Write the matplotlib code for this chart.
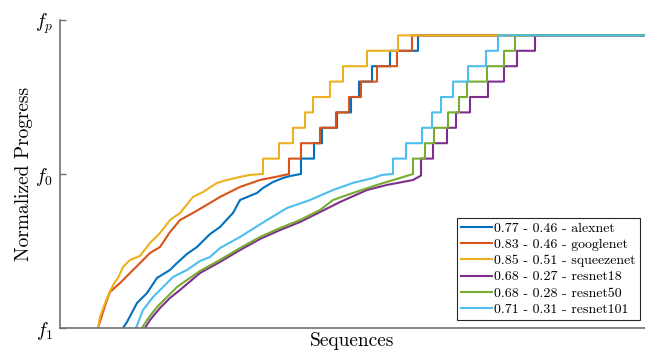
import matplotlib
matplotlib.use('Agg')
import matplotlib.pyplot as plt

plt.rcParams['font.family'] = 'cmr10'
plt.rcParams['mathtext.fontset'] = 'cm'
plt.rcParams['axes.unicode_minus'] = False

# total number of sequences on the x axis
N_SEQ = 585
STEP = 0.1  # height of one stair step (normalized progress)

names = ['alexnet', 'googlenet', 'squeezenet', 'resnet18', 'resnet50', 'resnet101']
score_a = [0.77, 0.83, 0.85, 0.68, 0.68, 0.71]
score_b = [0.46, 0.46, 0.51, 0.27, 0.28, 0.31]
colors = ['#0072BD', '#D95319', '#EDB120', '#7E2F8E', '#77AC30', '#4DBEEE']

# smooth part (below f_0)
alexnet_x = [63, 67, 77, 87, 97, 110, 117, 127, 137, 150, 160, 173, 180, 197, 203, 213, 223, 230, 241]
alexnet_y = [0, 0.039, 0.162, 0.227, 0.325, 0.377, 0.422, 0.481, 0.526, 0.610, 0.656, 0.747, 0.831,
             0.877, 0.909, 0.948, 0.974, 0.987, 1.0]
googlenet_x = [38, 43, 47, 50, 60, 70, 80, 90, 100, 110, 120, 133, 150, 160, 180, 200, 220, 229]
googlenet_y = [0, 0.104, 0.182, 0.234, 0.292, 0.357, 0.422, 0.487, 0.526, 0.623, 0.701, 0.747, 0.812,
               0.851, 0.916, 0.961, 0.987, 1.0]
squeezenet_x = [38, 40, 45, 50, 55, 58, 63, 70, 80, 90, 100, 110, 120, 133, 143, 157, 167, 180, 190, 202]
squeezenet_y = [0, 0.071, 0.162, 0.240, 0.299, 0.325, 0.396, 0.442, 0.468, 0.552, 0.617, 0.701, 0.747,
                0.851, 0.883, 0.942, 0.961, 0.981, 0.994, 1.0]
resnet18_x = [85, 90, 100, 110, 120, 140, 160, 180, 200, 220, 240, 260, 280, 307, 327, 353, 361]
resnet18_y = [0, 0.052, 0.130, 0.195, 0.247, 0.357, 0.429, 0.506, 0.578, 0.636, 0.688, 0.753, 0.818,
              0.896, 0.929, 0.961, 0.99]
resnet50_x = [82, 87, 97, 107, 117, 127, 140, 160, 180, 200, 220, 240, 260, 273, 293, 317, 340, 353]
resnet50_y = [0, 0.052, 0.136, 0.201, 0.266, 0.312, 0.370, 0.442, 0.519, 0.591, 0.649, 0.701, 0.766,
              0.831, 0.877, 0.929, 0.974, 1.0]
resnet101_x = [76, 83, 93, 103, 113, 127, 140, 150, 160, 180, 207, 227, 250, 273, 293, 313, 322, 333]
resnet101_y = [0, 0.117, 0.201, 0.266, 0.331, 0.377, 0.435, 0.461, 0.519, 0.591, 0.701, 0.779, 0.831,
               0.896, 0.942, 0.974, 0.994, 1.0]

# sequences where each stair step (above f_0) happens
alexnet_steps = [241, 254, 262, 277, 291, 299, 312, 330, 358]
googlenet_steps = [229, 241, 260, 276, 289, 301, 317, 337, 352]
squeezenet_steps = [203, 219, 233, 245, 253, 270, 283, 307, 338]
resnet18_steps = [361, 373, 387, 396, 410, 428, 444, 457, 475]
resnet50_steps = [353, 365, 374, 388, 399, 407, 427, 444, 455]
resnet101_steps = [333, 346, 362, 372, 381, 393, 408, 426, 438]

curves = [
    (alexnet_x, alexnet_y, alexnet_steps),
    (googlenet_x, googlenet_y, googlenet_steps),
    (squeezenet_x, squeezenet_y, squeezenet_steps),
    (resnet18_x, resnet18_y, resnet18_steps),
    (resnet50_x, resnet50_y, resnet50_steps),
    (resnet101_x, resnet101_y, resnet101_steps),
]


def build(xs, ys, steps):
    x = list(xs)
    y = list(ys)
    lvl = 1.0
    for s in steps:
        x += [s, s]
        y += [lvl, lvl + STEP]
        lvl += STEP
    x.append(N_SEQ)
    y.append(lvl)
    return x, y


fig = plt.figure(figsize=(6.45, 3.52), dpi=100)
ax = fig.add_axes([60 / 645, 24 / 352, 585 / 645, 308 / 352])

for (xs, ys, st), c, n, a, b in zip(curves, colors, names, score_a, score_b):
    x, y = build(xs, ys, st)
    ax.plot(x, y, color=c, lw=1.5, label='%.2f - %.2f - %s' % (a, b, n))

ax.set_xlim(0, N_SEQ)
ax.set_ylim(0, 2)
ax.set_xticks([])
ax.set_yticks([0, 1, 2])
ax.set_yticklabels([r'$f_1$', r'$f_0$', r'$f_p$'], fontsize=14)
ax.tick_params(axis='y', direction='in', length=4.5, width=1.0, color='#707070', pad=5)
for side in ['top', 'right']:
    ax.spines[side].set_visible(False)
for side in ['left', 'bottom']:
    ax.spines[side].set_color('#707070')
    ax.spines[side].set_linewidth(1.2)

ax.set_xlabel('Sequences', fontsize=14, labelpad=3)
ax.set_ylabel('Normalized Progress', fontsize=14, labelpad=1.5)

leg = ax.legend(loc='lower right', bbox_to_anchor=(580 / 585, 8 / 308), fontsize=10,
                handlelength=2.2, handletextpad=0.2, labelspacing=0.25, borderpad=0.3,
                borderaxespad=0, fancybox=False, framealpha=1, edgecolor='#262626')
leg.get_frame().set_linewidth(0.8)

fig.savefig('out.png', dpi=100)
